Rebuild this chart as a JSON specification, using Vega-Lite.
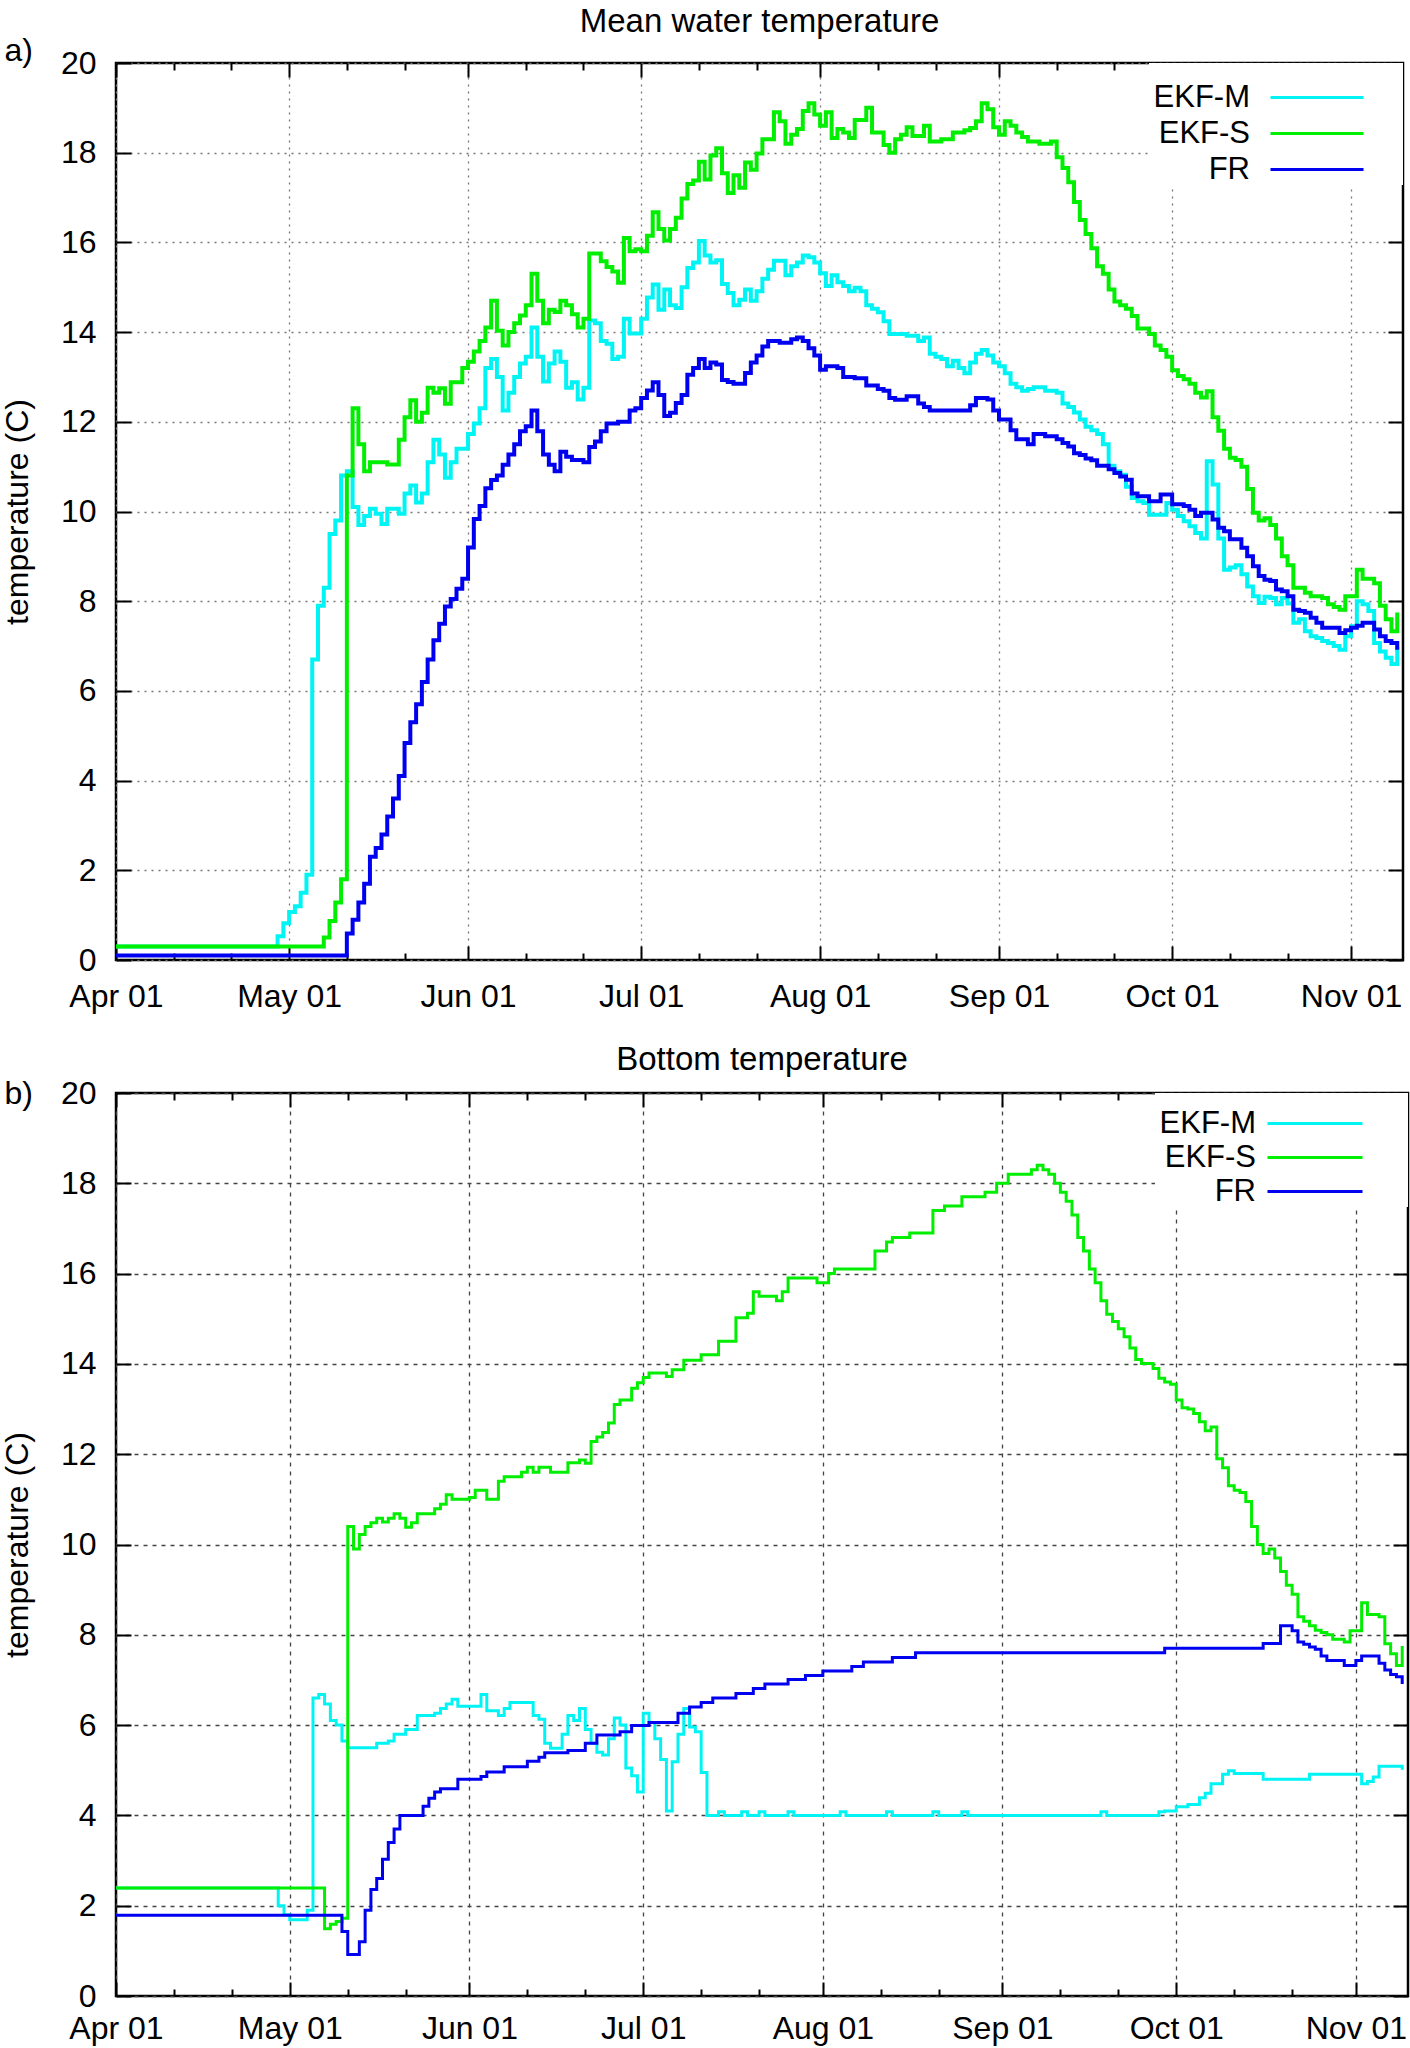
{
"$schema": "https://vega.github.io/schema/vega-lite/v6.json",
"background": "white",
"padding": {"left": 0, "top": 4, "right": 0, "bottom": 0},
"config": {
  "font": "Liberation Sans",
  "view": {"stroke": "black", "strokeWidth": 2.5},
  "axis": {"domain": false, "labelFont": "Liberation Sans", "labelFontSize": 32, "labelColor": "black", "titleFont": "Liberation Sans", "titleFontSize": 32, "titleFontWeight": "normal", "titleColor": "black", "tickColor": "black", "tickWidth": 2, "gridWidth": 1.3, "labelFlush": false, "labelOverlap": false, "labelBound": false},
  "title": {"font": "Liberation Sans", "fontSize": 33, "fontWeight": "normal", "color": "black"},
  "concat": {"spacing": 21}
},
"resolve": {"scale": {"color": "independent"}},
"datasets": {
"mean": [
{"m":"EKF-M","d":"2010-04-01","t":0.3},{"m":"EKF-M","d":"2010-04-29","t":0.53},{"m":"EKF-M","d":"2010-04-30","t":0.82},{"m":"EKF-M","d":"2010-05-01","t":1.07},{"m":"EKF-M","d":"2010-05-02","t":1.2},{"m":"EKF-M","d":"2010-05-03","t":1.5},{"m":"EKF-M","d":"2010-05-04","t":1.9},{"m":"EKF-M","d":"2010-05-05","t":6.7},{"m":"EKF-M","d":"2010-05-06","t":7.9},{"m":"EKF-M","d":"2010-05-07","t":8.3},{"m":"EKF-M","d":"2010-05-08","t":9.5},{"m":"EKF-M","d":"2010-05-09","t":9.8},{"m":"EKF-M","d":"2010-05-10","t":10.8},{"m":"EKF-M","d":"2010-05-11","t":10.9},{"m":"EKF-M","d":"2010-05-12","t":10.1},{"m":"EKF-M","d":"2010-05-13","t":9.7},{"m":"EKF-M","d":"2010-05-14","t":9.9},{"m":"EKF-M","d":"2010-05-15","t":10.06},{"m":"EKF-M","d":"2010-05-16","t":9.95},{"m":"EKF-M","d":"2010-05-17","t":9.72},{"m":"EKF-M","d":"2010-05-18","t":10.06},{"m":"EKF-M","d":"2010-05-20","t":9.95},{"m":"EKF-M","d":"2010-05-21","t":10.4},{"m":"EKF-M","d":"2010-05-22","t":10.58},{"m":"EKF-M","d":"2010-05-23","t":10.2},{"m":"EKF-M","d":"2010-05-24","t":10.4},{"m":"EKF-M","d":"2010-05-25","t":11.1},{"m":"EKF-M","d":"2010-05-26","t":11.6},{"m":"EKF-M","d":"2010-05-27","t":11.27},{"m":"EKF-M","d":"2010-05-28","t":10.75},{"m":"EKF-M","d":"2010-05-29","t":11.1},{"m":"EKF-M","d":"2010-05-30","t":11.4},{"m":"EKF-M","d":"2010-06-01","t":11.73},{"m":"EKF-M","d":"2010-06-02","t":11.96},{"m":"EKF-M","d":"2010-06-03","t":12.3},{"m":"EKF-M","d":"2010-06-04","t":13.2},{"m":"EKF-M","d":"2010-06-05","t":13.4},{"m":"EKF-M","d":"2010-06-06","t":13.0},{"m":"EKF-M","d":"2010-06-07","t":12.25},{"m":"EKF-M","d":"2010-06-08","t":12.65},{"m":"EKF-M","d":"2010-06-09","t":13.0},{"m":"EKF-M","d":"2010-06-10","t":13.3},{"m":"EKF-M","d":"2010-06-11","t":13.45},{"m":"EKF-M","d":"2010-06-12","t":14.1},{"m":"EKF-M","d":"2010-06-13","t":13.45},{"m":"EKF-M","d":"2010-06-14","t":12.9},{"m":"EKF-M","d":"2010-06-15","t":13.3},{"m":"EKF-M","d":"2010-06-16","t":13.57},{"m":"EKF-M","d":"2010-06-17","t":13.34},{"m":"EKF-M","d":"2010-06-18","t":12.76},{"m":"EKF-M","d":"2010-06-19","t":12.88},{"m":"EKF-M","d":"2010-06-20","t":12.5},{"m":"EKF-M","d":"2010-06-21","t":12.76},{"m":"EKF-M","d":"2010-06-22","t":14.26},{"m":"EKF-M","d":"2010-06-23","t":14.2},{"m":"EKF-M","d":"2010-06-24","t":13.8},{"m":"EKF-M","d":"2010-06-25","t":13.74},{"m":"EKF-M","d":"2010-06-26","t":13.4},{"m":"EKF-M","d":"2010-06-27","t":13.45},{"m":"EKF-M","d":"2010-06-28","t":14.3},{"m":"EKF-M","d":"2010-06-29","t":13.97},{"m":"EKF-M","d":"2010-07-01","t":14.3},{"m":"EKF-M","d":"2010-07-02","t":14.77},{"m":"EKF-M","d":"2010-07-03","t":15.06},{"m":"EKF-M","d":"2010-07-04","t":14.5},{"m":"EKF-M","d":"2010-07-05","t":14.95},{"m":"EKF-M","d":"2010-07-06","t":14.6},{"m":"EKF-M","d":"2010-07-07","t":14.54},{"m":"EKF-M","d":"2010-07-08","t":15.0},{"m":"EKF-M","d":"2010-07-09","t":15.43},{"m":"EKF-M","d":"2010-07-10","t":15.55},{"m":"EKF-M","d":"2010-07-11","t":16.03},{"m":"EKF-M","d":"2010-07-12","t":15.71},{"m":"EKF-M","d":"2010-07-13","t":15.55},{"m":"EKF-M","d":"2010-07-14","t":15.6},{"m":"EKF-M","d":"2010-07-15","t":15.07},{"m":"EKF-M","d":"2010-07-16","t":14.87},{"m":"EKF-M","d":"2010-07-17","t":14.6},{"m":"EKF-M","d":"2010-07-18","t":14.72},{"m":"EKF-M","d":"2010-07-19","t":14.95},{"m":"EKF-M","d":"2010-07-20","t":14.7},{"m":"EKF-M","d":"2010-07-21","t":14.91},{"m":"EKF-M","d":"2010-07-22","t":15.19},{"m":"EKF-M","d":"2010-07-23","t":15.39},{"m":"EKF-M","d":"2010-07-24","t":15.59},{"m":"EKF-M","d":"2010-07-26","t":15.27},{"m":"EKF-M","d":"2010-07-27","t":15.47},{"m":"EKF-M","d":"2010-07-28","t":15.55},{"m":"EKF-M","d":"2010-07-29","t":15.71},{"m":"EKF-M","d":"2010-07-30","t":15.67},{"m":"EKF-M","d":"2010-07-31","t":15.55},{"m":"EKF-M","d":"2010-08-01","t":15.31},{"m":"EKF-M","d":"2010-08-02","t":15.03},{"m":"EKF-M","d":"2010-08-03","t":15.27},{"m":"EKF-M","d":"2010-08-04","t":15.11},{"m":"EKF-M","d":"2010-08-05","t":15.03},{"m":"EKF-M","d":"2010-08-06","t":14.91},{"m":"EKF-M","d":"2010-08-07","t":14.99},{"m":"EKF-M","d":"2010-08-08","t":14.91},{"m":"EKF-M","d":"2010-08-09","t":14.6},{"m":"EKF-M","d":"2010-08-10","t":14.52},{"m":"EKF-M","d":"2010-08-11","t":14.44},{"m":"EKF-M","d":"2010-08-12","t":14.24},{"m":"EKF-M","d":"2010-08-13","t":13.96},{"m":"EKF-M","d":"2010-08-16","t":13.92},{"m":"EKF-M","d":"2010-08-18","t":13.8},{"m":"EKF-M","d":"2010-08-19","t":13.88},{"m":"EKF-M","d":"2010-08-20","t":13.52},{"m":"EKF-M","d":"2010-08-21","t":13.45},{"m":"EKF-M","d":"2010-08-22","t":13.4},{"m":"EKF-M","d":"2010-08-23","t":13.24},{"m":"EKF-M","d":"2010-08-24","t":13.36},{"m":"EKF-M","d":"2010-08-25","t":13.2},{"m":"EKF-M","d":"2010-08-26","t":13.08},{"m":"EKF-M","d":"2010-08-27","t":13.32},{"m":"EKF-M","d":"2010-08-28","t":13.52},{"m":"EKF-M","d":"2010-08-29","t":13.6},{"m":"EKF-M","d":"2010-08-30","t":13.48},{"m":"EKF-M","d":"2010-08-31","t":13.32},{"m":"EKF-M","d":"2010-09-01","t":13.24},{"m":"EKF-M","d":"2010-09-02","t":13.08},{"m":"EKF-M","d":"2010-09-03","t":12.85},{"m":"EKF-M","d":"2010-09-04","t":12.77},{"m":"EKF-M","d":"2010-09-05","t":12.69},{"m":"EKF-M","d":"2010-09-06","t":12.73},{"m":"EKF-M","d":"2010-09-07","t":12.77},{"m":"EKF-M","d":"2010-09-09","t":12.69},{"m":"EKF-M","d":"2010-09-11","t":12.65},{"m":"EKF-M","d":"2010-09-12","t":12.41},{"m":"EKF-M","d":"2010-09-13","t":12.33},{"m":"EKF-M","d":"2010-09-14","t":12.21},{"m":"EKF-M","d":"2010-09-15","t":12.05},{"m":"EKF-M","d":"2010-09-16","t":11.89},{"m":"EKF-M","d":"2010-09-17","t":11.81},{"m":"EKF-M","d":"2010-09-18","t":11.73},{"m":"EKF-M","d":"2010-09-19","t":11.5},{"m":"EKF-M","d":"2010-09-20","t":11.02},{"m":"EKF-M","d":"2010-09-21","t":10.9},{"m":"EKF-M","d":"2010-09-22","t":10.82},{"m":"EKF-M","d":"2010-09-23","t":10.55},{"m":"EKF-M","d":"2010-09-24","t":10.3},{"m":"EKF-M","d":"2010-09-25","t":10.23},{"m":"EKF-M","d":"2010-09-26","t":10.19},{"m":"EKF-M","d":"2010-09-27","t":9.93},{"m":"EKF-M","d":"2010-09-30","t":10.19},{"m":"EKF-M","d":"2010-10-01","t":10.04},{"m":"EKF-M","d":"2010-10-02","t":9.9},{"m":"EKF-M","d":"2010-10-03","t":9.78},{"m":"EKF-M","d":"2010-10-04","t":9.67},{"m":"EKF-M","d":"2010-10-05","t":9.52},{"m":"EKF-M","d":"2010-10-06","t":9.4},{"m":"EKF-M","d":"2010-10-07","t":11.12},{"m":"EKF-M","d":"2010-10-08","t":10.6},{"m":"EKF-M","d":"2010-10-09","t":9.4},{"m":"EKF-M","d":"2010-10-10","t":8.7},{"m":"EKF-M","d":"2010-10-11","t":8.75},{"m":"EKF-M","d":"2010-10-12","t":8.8},{"m":"EKF-M","d":"2010-10-13","t":8.6},{"m":"EKF-M","d":"2010-10-14","t":8.33},{"m":"EKF-M","d":"2010-10-15","t":8.11},{"m":"EKF-M","d":"2010-10-16","t":7.96},{"m":"EKF-M","d":"2010-10-17","t":8.1},{"m":"EKF-M","d":"2010-10-18","t":8.07},{"m":"EKF-M","d":"2010-10-19","t":7.93},{"m":"EKF-M","d":"2010-10-20","t":8.07},{"m":"EKF-M","d":"2010-10-21","t":7.95},{"m":"EKF-M","d":"2010-10-22","t":7.52},{"m":"EKF-M","d":"2010-10-23","t":7.6},{"m":"EKF-M","d":"2010-10-24","t":7.33},{"m":"EKF-M","d":"2010-10-25","t":7.22},{"m":"EKF-M","d":"2010-10-26","t":7.18},{"m":"EKF-M","d":"2010-10-27","t":7.11},{"m":"EKF-M","d":"2010-10-28","t":7.07},{"m":"EKF-M","d":"2010-10-29","t":7.0},{"m":"EKF-M","d":"2010-10-30","t":6.92},{"m":"EKF-M","d":"2010-10-31","t":7.22},{"m":"EKF-M","d":"2010-11-01","t":7.44},{"m":"EKF-M","d":"2010-11-02","t":8.0},{"m":"EKF-M","d":"2010-11-03","t":7.93},{"m":"EKF-M","d":"2010-11-04","t":7.78},{"m":"EKF-M","d":"2010-11-05","t":7.07},{"m":"EKF-M","d":"2010-11-06","t":6.88},{"m":"EKF-M","d":"2010-11-07","t":6.74},{"m":"EKF-M","d":"2010-11-08","t":6.6},{"m":"EKF-M","d":"2010-11-09","t":6.99},
{"m":"EKF-S","d":"2010-04-01","t":0.3},{"m":"EKF-S","d":"2010-05-07","t":0.5},{"m":"EKF-S","d":"2010-05-08","t":0.87},{"m":"EKF-S","d":"2010-05-09","t":1.28},{"m":"EKF-S","d":"2010-05-10","t":1.8},{"m":"EKF-S","d":"2010-05-11","t":10.8},{"m":"EKF-S","d":"2010-05-12","t":12.3},{"m":"EKF-S","d":"2010-05-13","t":11.5},{"m":"EKF-S","d":"2010-05-14","t":10.9},{"m":"EKF-S","d":"2010-05-15","t":11.1},{"m":"EKF-S","d":"2010-05-18","t":11.05},{"m":"EKF-S","d":"2010-05-20","t":11.6},{"m":"EKF-S","d":"2010-05-21","t":12.1},{"m":"EKF-S","d":"2010-05-22","t":12.48},{"m":"EKF-S","d":"2010-05-23","t":12.0},{"m":"EKF-S","d":"2010-05-24","t":12.2},{"m":"EKF-S","d":"2010-05-25","t":12.76},{"m":"EKF-S","d":"2010-05-26","t":12.65},{"m":"EKF-S","d":"2010-05-27","t":12.75},{"m":"EKF-S","d":"2010-05-28","t":12.4},{"m":"EKF-S","d":"2010-05-29","t":12.88},{"m":"EKF-S","d":"2010-05-31","t":13.2},{"m":"EKF-S","d":"2010-06-01","t":13.34},{"m":"EKF-S","d":"2010-06-02","t":13.57},{"m":"EKF-S","d":"2010-06-03","t":13.8},{"m":"EKF-S","d":"2010-06-04","t":14.1},{"m":"EKF-S","d":"2010-06-05","t":14.7},{"m":"EKF-S","d":"2010-06-06","t":14.03},{"m":"EKF-S","d":"2010-06-07","t":13.7},{"m":"EKF-S","d":"2010-06-08","t":14.0},{"m":"EKF-S","d":"2010-06-09","t":14.2},{"m":"EKF-S","d":"2010-06-10","t":14.37},{"m":"EKF-S","d":"2010-06-11","t":14.6},{"m":"EKF-S","d":"2010-06-12","t":15.3},{"m":"EKF-S","d":"2010-06-13","t":14.7},{"m":"EKF-S","d":"2010-06-14","t":14.2},{"m":"EKF-S","d":"2010-06-15","t":14.5},{"m":"EKF-S","d":"2010-06-16","t":14.45},{"m":"EKF-S","d":"2010-06-17","t":14.7},{"m":"EKF-S","d":"2010-06-18","t":14.6},{"m":"EKF-S","d":"2010-06-19","t":14.4},{"m":"EKF-S","d":"2010-06-20","t":14.1},{"m":"EKF-S","d":"2010-06-21","t":14.3},{"m":"EKF-S","d":"2010-06-22","t":15.75},{"m":"EKF-S","d":"2010-06-24","t":15.58},{"m":"EKF-S","d":"2010-06-25","t":15.45},{"m":"EKF-S","d":"2010-06-26","t":15.35},{"m":"EKF-S","d":"2010-06-27","t":15.1},{"m":"EKF-S","d":"2010-06-28","t":16.1},{"m":"EKF-S","d":"2010-06-29","t":15.8},{"m":"EKF-S","d":"2010-06-30","t":15.85},{"m":"EKF-S","d":"2010-07-01","t":15.8},{"m":"EKF-S","d":"2010-07-02","t":16.15},{"m":"EKF-S","d":"2010-07-03","t":16.67},{"m":"EKF-S","d":"2010-07-04","t":16.3},{"m":"EKF-S","d":"2010-07-05","t":16.04},{"m":"EKF-S","d":"2010-07-06","t":16.3},{"m":"EKF-S","d":"2010-07-07","t":16.55},{"m":"EKF-S","d":"2010-07-08","t":16.98},{"m":"EKF-S","d":"2010-07-09","t":17.3},{"m":"EKF-S","d":"2010-07-10","t":17.38},{"m":"EKF-S","d":"2010-07-11","t":17.8},{"m":"EKF-S","d":"2010-07-12","t":17.4},{"m":"EKF-S","d":"2010-07-13","t":17.94},{"m":"EKF-S","d":"2010-07-14","t":18.1},{"m":"EKF-S","d":"2010-07-15","t":17.54},{"m":"EKF-S","d":"2010-07-16","t":17.1},{"m":"EKF-S","d":"2010-07-17","t":17.5},{"m":"EKF-S","d":"2010-07-18","t":17.22},{"m":"EKF-S","d":"2010-07-19","t":17.78},{"m":"EKF-S","d":"2010-07-20","t":17.62},{"m":"EKF-S","d":"2010-07-21","t":17.98},{"m":"EKF-S","d":"2010-07-22","t":18.3},{"m":"EKF-S","d":"2010-07-24","t":18.9},{"m":"EKF-S","d":"2010-07-25","t":18.7},{"m":"EKF-S","d":"2010-07-26","t":18.2},{"m":"EKF-S","d":"2010-07-27","t":18.4},{"m":"EKF-S","d":"2010-07-28","t":18.53},{"m":"EKF-S","d":"2010-07-29","t":18.93},{"m":"EKF-S","d":"2010-07-30","t":19.1},{"m":"EKF-S","d":"2010-07-31","t":18.85},{"m":"EKF-S","d":"2010-08-01","t":18.6},{"m":"EKF-S","d":"2010-08-02","t":18.9},{"m":"EKF-S","d":"2010-08-03","t":18.33},{"m":"EKF-S","d":"2010-08-04","t":18.53},{"m":"EKF-S","d":"2010-08-05","t":18.45},{"m":"EKF-S","d":"2010-08-06","t":18.33},{"m":"EKF-S","d":"2010-08-07","t":18.73},{"m":"EKF-S","d":"2010-08-09","t":19.0},{"m":"EKF-S","d":"2010-08-10","t":18.45},{"m":"EKF-S","d":"2010-08-12","t":18.17},{"m":"EKF-S","d":"2010-08-13","t":18.0},{"m":"EKF-S","d":"2010-08-14","t":18.3},{"m":"EKF-S","d":"2010-08-15","t":18.4},{"m":"EKF-S","d":"2010-08-16","t":18.57},{"m":"EKF-S","d":"2010-08-17","t":18.37},{"m":"EKF-S","d":"2010-08-19","t":18.6},{"m":"EKF-S","d":"2010-08-20","t":18.25},{"m":"EKF-S","d":"2010-08-22","t":18.3},{"m":"EKF-S","d":"2010-08-24","t":18.45},{"m":"EKF-S","d":"2010-08-26","t":18.5},{"m":"EKF-S","d":"2010-08-27","t":18.55},{"m":"EKF-S","d":"2010-08-28","t":18.7},{"m":"EKF-S","d":"2010-08-29","t":19.1},{"m":"EKF-S","d":"2010-08-30","t":18.97},{"m":"EKF-S","d":"2010-08-31","t":18.57},{"m":"EKF-S","d":"2010-09-01","t":18.4},{"m":"EKF-S","d":"2010-09-02","t":18.7},{"m":"EKF-S","d":"2010-09-03","t":18.6},{"m":"EKF-S","d":"2010-09-04","t":18.45},{"m":"EKF-S","d":"2010-09-05","t":18.35},{"m":"EKF-S","d":"2010-09-06","t":18.25},{"m":"EKF-S","d":"2010-09-08","t":18.2},{"m":"EKF-S","d":"2010-09-10","t":18.25},{"m":"EKF-S","d":"2010-09-11","t":17.9},{"m":"EKF-S","d":"2010-09-12","t":17.66},{"m":"EKF-S","d":"2010-09-13","t":17.34},{"m":"EKF-S","d":"2010-09-14","t":16.9},{"m":"EKF-S","d":"2010-09-15","t":16.5},{"m":"EKF-S","d":"2010-09-16","t":16.19},{"m":"EKF-S","d":"2010-09-17","t":15.87},{"m":"EKF-S","d":"2010-09-18","t":15.47},{"m":"EKF-S","d":"2010-09-19","t":15.3},{"m":"EKF-S","d":"2010-09-20","t":14.95},{"m":"EKF-S","d":"2010-09-21","t":14.68},{"m":"EKF-S","d":"2010-09-22","t":14.6},{"m":"EKF-S","d":"2010-09-23","t":14.52},{"m":"EKF-S","d":"2010-09-24","t":14.36},{"m":"EKF-S","d":"2010-09-25","t":14.08},{"m":"EKF-S","d":"2010-09-27","t":13.96},{"m":"EKF-S","d":"2010-09-28","t":13.7},{"m":"EKF-S","d":"2010-09-29","t":13.6},{"m":"EKF-S","d":"2010-09-30","t":13.45},{"m":"EKF-S","d":"2010-10-01","t":13.15},{"m":"EKF-S","d":"2010-10-02","t":13.02},{"m":"EKF-S","d":"2010-10-03","t":12.95},{"m":"EKF-S","d":"2010-10-04","t":12.85},{"m":"EKF-S","d":"2010-10-05","t":12.65},{"m":"EKF-S","d":"2010-10-06","t":12.54},{"m":"EKF-S","d":"2010-10-07","t":12.68},{"m":"EKF-S","d":"2010-10-08","t":12.1},{"m":"EKF-S","d":"2010-10-09","t":11.8},{"m":"EKF-S","d":"2010-10-10","t":11.4},{"m":"EKF-S","d":"2010-10-11","t":11.2},{"m":"EKF-S","d":"2010-10-12","t":11.15},{"m":"EKF-S","d":"2010-10-13","t":11.0},{"m":"EKF-S","d":"2010-10-14","t":10.5},{"m":"EKF-S","d":"2010-10-15","t":9.97},{"m":"EKF-S","d":"2010-10-16","t":9.8},{"m":"EKF-S","d":"2010-10-17","t":9.85},{"m":"EKF-S","d":"2010-10-18","t":9.7},{"m":"EKF-S","d":"2010-10-19","t":9.4},{"m":"EKF-S","d":"2010-10-20","t":9.0},{"m":"EKF-S","d":"2010-10-21","t":8.8},{"m":"EKF-S","d":"2010-10-22","t":8.3},{"m":"EKF-S","d":"2010-10-24","t":8.19},{"m":"EKF-S","d":"2010-10-25","t":8.11},{"m":"EKF-S","d":"2010-10-27","t":8.07},{"m":"EKF-S","d":"2010-10-28","t":7.93},{"m":"EKF-S","d":"2010-10-29","t":7.87},{"m":"EKF-S","d":"2010-10-30","t":7.81},{"m":"EKF-S","d":"2010-10-31","t":8.11},{"m":"EKF-S","d":"2010-11-02","t":8.7},{"m":"EKF-S","d":"2010-11-03","t":8.5},{"m":"EKF-S","d":"2010-11-05","t":8.4},{"m":"EKF-S","d":"2010-11-06","t":7.9},{"m":"EKF-S","d":"2010-11-07","t":7.6},{"m":"EKF-S","d":"2010-11-08","t":7.33},{"m":"EKF-S","d":"2010-11-09","t":7.75},
{"m":"FR","d":"2010-04-01","t":0.1},{"m":"FR","d":"2010-05-11","t":0.59},{"m":"FR","d":"2010-05-12","t":0.9},{"m":"FR","d":"2010-05-13","t":1.28},{"m":"FR","d":"2010-05-14","t":1.7},{"m":"FR","d":"2010-05-15","t":2.3},{"m":"FR","d":"2010-05-16","t":2.5},{"m":"FR","d":"2010-05-17","t":2.8},{"m":"FR","d":"2010-05-18","t":3.2},{"m":"FR","d":"2010-05-19","t":3.6},{"m":"FR","d":"2010-05-20","t":4.1},{"m":"FR","d":"2010-05-21","t":4.84},{"m":"FR","d":"2010-05-22","t":5.3},{"m":"FR","d":"2010-05-23","t":5.7},{"m":"FR","d":"2010-05-24","t":6.2},{"m":"FR","d":"2010-05-25","t":6.7},{"m":"FR","d":"2010-05-26","t":7.13},{"m":"FR","d":"2010-05-27","t":7.5},{"m":"FR","d":"2010-05-28","t":7.88},{"m":"FR","d":"2010-05-29","t":8.05},{"m":"FR","d":"2010-05-30","t":8.28},{"m":"FR","d":"2010-05-31","t":8.5},{"m":"FR","d":"2010-06-01","t":9.2},{"m":"FR","d":"2010-06-02","t":9.83},{"m":"FR","d":"2010-06-03","t":10.12},{"m":"FR","d":"2010-06-04","t":10.52},{"m":"FR","d":"2010-06-05","t":10.7},{"m":"FR","d":"2010-06-06","t":10.8},{"m":"FR","d":"2010-06-07","t":11.04},{"m":"FR","d":"2010-06-08","t":11.27},{"m":"FR","d":"2010-06-09","t":11.5},{"m":"FR","d":"2010-06-10","t":11.79},{"m":"FR","d":"2010-06-11","t":11.9},{"m":"FR","d":"2010-06-12","t":12.25},{"m":"FR","d":"2010-06-13","t":11.79},{"m":"FR","d":"2010-06-14","t":11.27},{"m":"FR","d":"2010-06-15","t":11.04},{"m":"FR","d":"2010-06-16","t":10.9},{"m":"FR","d":"2010-06-17","t":11.33},{"m":"FR","d":"2010-06-18","t":11.22},{"m":"FR","d":"2010-06-19","t":11.15},{"m":"FR","d":"2010-06-21","t":11.1},{"m":"FR","d":"2010-06-22","t":11.44},{"m":"FR","d":"2010-06-23","t":11.56},{"m":"FR","d":"2010-06-24","t":11.79},{"m":"FR","d":"2010-06-25","t":11.96},{"m":"FR","d":"2010-06-27","t":12.0},{"m":"FR","d":"2010-06-29","t":12.25},{"m":"FR","d":"2010-06-30","t":12.3},{"m":"FR","d":"2010-07-01","t":12.53},{"m":"FR","d":"2010-07-02","t":12.7},{"m":"FR","d":"2010-07-03","t":12.88},{"m":"FR","d":"2010-07-04","t":12.6},{"m":"FR","d":"2010-07-05","t":12.13},{"m":"FR","d":"2010-07-06","t":12.2},{"m":"FR","d":"2010-07-07","t":12.42},{"m":"FR","d":"2010-07-08","t":12.6},{"m":"FR","d":"2010-07-09","t":13.05},{"m":"FR","d":"2010-07-10","t":13.2},{"m":"FR","d":"2010-07-11","t":13.4},{"m":"FR","d":"2010-07-12","t":13.2},{"m":"FR","d":"2010-07-13","t":13.32},{"m":"FR","d":"2010-07-14","t":13.28},{"m":"FR","d":"2010-07-15","t":12.93},{"m":"FR","d":"2010-07-16","t":12.89},{"m":"FR","d":"2010-07-17","t":12.85},{"m":"FR","d":"2010-07-19","t":13.09},{"m":"FR","d":"2010-07-20","t":13.32},{"m":"FR","d":"2010-07-21","t":13.48},{"m":"FR","d":"2010-07-22","t":13.68},{"m":"FR","d":"2010-07-23","t":13.8},{"m":"FR","d":"2010-07-25","t":13.76},{"m":"FR","d":"2010-07-27","t":13.84},{"m":"FR","d":"2010-07-28","t":13.88},{"m":"FR","d":"2010-07-29","t":13.8},{"m":"FR","d":"2010-07-30","t":13.64},{"m":"FR","d":"2010-07-31","t":13.48},{"m":"FR","d":"2010-08-01","t":13.16},{"m":"FR","d":"2010-08-02","t":13.24},{"m":"FR","d":"2010-08-04","t":13.2},{"m":"FR","d":"2010-08-05","t":13.0},{"m":"FR","d":"2010-08-07","t":12.97},{"m":"FR","d":"2010-08-09","t":12.81},{"m":"FR","d":"2010-08-11","t":12.73},{"m":"FR","d":"2010-08-12","t":12.69},{"m":"FR","d":"2010-08-13","t":12.53},{"m":"FR","d":"2010-08-14","t":12.49},{"m":"FR","d":"2010-08-16","t":12.57},{"m":"FR","d":"2010-08-18","t":12.41},{"m":"FR","d":"2010-08-19","t":12.33},{"m":"FR","d":"2010-08-20","t":12.25},{"m":"FR","d":"2010-08-27","t":12.37},{"m":"FR","d":"2010-08-28","t":12.53},{"m":"FR","d":"2010-08-30","t":12.5},{"m":"FR","d":"2010-08-31","t":12.25},{"m":"FR","d":"2010-09-01","t":12.05},{"m":"FR","d":"2010-09-03","t":11.81},{"m":"FR","d":"2010-09-04","t":11.61},{"m":"FR","d":"2010-09-06","t":11.5},{"m":"FR","d":"2010-09-07","t":11.73},{"m":"FR","d":"2010-09-09","t":11.68},{"m":"FR","d":"2010-09-11","t":11.61},{"m":"FR","d":"2010-09-12","t":11.53},{"m":"FR","d":"2010-09-13","t":11.45},{"m":"FR","d":"2010-09-14","t":11.3},{"m":"FR","d":"2010-09-15","t":11.26},{"m":"FR","d":"2010-09-16","t":11.18},{"m":"FR","d":"2010-09-17","t":11.14},{"m":"FR","d":"2010-09-18","t":11.02},{"m":"FR","d":"2010-09-20","t":10.94},{"m":"FR","d":"2010-09-21","t":10.86},{"m":"FR","d":"2010-09-22","t":10.78},{"m":"FR","d":"2010-09-23","t":10.71},{"m":"FR","d":"2010-09-24","t":10.4},{"m":"FR","d":"2010-09-25","t":10.34},{"m":"FR","d":"2010-09-27","t":10.23},{"m":"FR","d":"2010-09-29","t":10.38},{"m":"FR","d":"2010-10-01","t":10.16},{"m":"FR","d":"2010-10-03","t":10.12},{"m":"FR","d":"2010-10-04","t":10.04},{"m":"FR","d":"2010-10-05","t":9.9},{"m":"FR","d":"2010-10-06","t":9.97},{"m":"FR","d":"2010-10-08","t":9.82},{"m":"FR","d":"2010-10-09","t":9.64},{"m":"FR","d":"2010-10-10","t":9.56},{"m":"FR","d":"2010-10-11","t":9.38},{"m":"FR","d":"2010-10-13","t":9.19},{"m":"FR","d":"2010-10-14","t":9.0},{"m":"FR","d":"2010-10-15","t":8.78},{"m":"FR","d":"2010-10-16","t":8.56},{"m":"FR","d":"2010-10-17","t":8.48},{"m":"FR","d":"2010-10-18","t":8.45},{"m":"FR","d":"2010-10-19","t":8.26},{"m":"FR","d":"2010-10-20","t":8.22},{"m":"FR","d":"2010-10-21","t":8.11},{"m":"FR","d":"2010-10-22","t":7.81},{"m":"FR","d":"2010-10-23","t":7.78},{"m":"FR","d":"2010-10-24","t":7.74},{"m":"FR","d":"2010-10-25","t":7.63},{"m":"FR","d":"2010-10-26","t":7.52},{"m":"FR","d":"2010-10-27","t":7.41},{"m":"FR","d":"2010-10-30","t":7.29},{"m":"FR","d":"2010-10-31","t":7.35},{"m":"FR","d":"2010-11-01","t":7.41},{"m":"FR","d":"2010-11-02","t":7.45},{"m":"FR","d":"2010-11-03","t":7.52},{"m":"FR","d":"2010-11-05","t":7.37},{"m":"FR","d":"2010-11-06","t":7.22},{"m":"FR","d":"2010-11-07","t":7.11},{"m":"FR","d":"2010-11-08","t":7.07},{"m":"FR","d":"2010-11-09","t":6.92}
],
"bottom": [
{"m":"EKF-M","d":"2010-04-01","t":2.39},{"m":"EKF-M","d":"2010-04-29","t":2.0},{"m":"EKF-M","d":"2010-04-30","t":1.8},{"m":"EKF-M","d":"2010-05-01","t":1.69},{"m":"EKF-M","d":"2010-05-04","t":1.9},{"m":"EKF-M","d":"2010-05-05","t":6.6},{"m":"EKF-M","d":"2010-05-06","t":6.68},{"m":"EKF-M","d":"2010-05-07","t":6.47},{"m":"EKF-M","d":"2010-05-08","t":6.1},{"m":"EKF-M","d":"2010-05-09","t":6.0},{"m":"EKF-M","d":"2010-05-10","t":5.65},{"m":"EKF-M","d":"2010-05-11","t":5.5},{"m":"EKF-M","d":"2010-05-16","t":5.6},{"m":"EKF-M","d":"2010-05-18","t":5.65},{"m":"EKF-M","d":"2010-05-19","t":5.8},{"m":"EKF-M","d":"2010-05-21","t":5.9},{"m":"EKF-M","d":"2010-05-23","t":6.21},{"m":"EKF-M","d":"2010-05-26","t":6.26},{"m":"EKF-M","d":"2010-05-27","t":6.37},{"m":"EKF-M","d":"2010-05-28","t":6.47},{"m":"EKF-M","d":"2010-05-29","t":6.57},{"m":"EKF-M","d":"2010-05-30","t":6.42},{"m":"EKF-M","d":"2010-06-03","t":6.68},{"m":"EKF-M","d":"2010-06-04","t":6.32},{"m":"EKF-M","d":"2010-06-06","t":6.21},{"m":"EKF-M","d":"2010-06-07","t":6.37},{"m":"EKF-M","d":"2010-06-08","t":6.5},{"m":"EKF-M","d":"2010-06-12","t":6.21},{"m":"EKF-M","d":"2010-06-13","t":6.13},{"m":"EKF-M","d":"2010-06-14","t":5.6},{"m":"EKF-M","d":"2010-06-15","t":5.49},{"m":"EKF-M","d":"2010-06-17","t":5.8},{"m":"EKF-M","d":"2010-06-18","t":6.21},{"m":"EKF-M","d":"2010-06-19","t":6.1},{"m":"EKF-M","d":"2010-06-20","t":6.37},{"m":"EKF-M","d":"2010-06-21","t":5.9},{"m":"EKF-M","d":"2010-06-22","t":5.6},{"m":"EKF-M","d":"2010-06-23","t":5.4},{"m":"EKF-M","d":"2010-06-24","t":5.34},{"m":"EKF-M","d":"2010-06-25","t":5.7},{"m":"EKF-M","d":"2010-06-26","t":6.16},{"m":"EKF-M","d":"2010-06-27","t":6.0},{"m":"EKF-M","d":"2010-06-28","t":5.05},{"m":"EKF-M","d":"2010-06-29","t":4.88},{"m":"EKF-M","d":"2010-06-30","t":4.52},{"m":"EKF-M","d":"2010-07-01","t":6.26},{"m":"EKF-M","d":"2010-07-02","t":6.06},{"m":"EKF-M","d":"2010-07-03","t":5.7},{"m":"EKF-M","d":"2010-07-04","t":5.24},{"m":"EKF-M","d":"2010-07-05","t":4.1},{"m":"EKF-M","d":"2010-07-06","t":5.19},{"m":"EKF-M","d":"2010-07-07","t":5.8},{"m":"EKF-M","d":"2010-07-08","t":6.37},{"m":"EKF-M","d":"2010-07-09","t":5.96},{"m":"EKF-M","d":"2010-07-10","t":5.85},{"m":"EKF-M","d":"2010-07-11","t":4.95},{"m":"EKF-M","d":"2010-07-12","t":4.0},{"m":"EKF-M","d":"2010-07-14","t":4.08},{"m":"EKF-M","d":"2010-07-15","t":4.0},{"m":"EKF-M","d":"2010-07-18","t":4.08},{"m":"EKF-M","d":"2010-07-19","t":4.0},{"m":"EKF-M","d":"2010-07-21","t":4.08},{"m":"EKF-M","d":"2010-07-22","t":4.0},{"m":"EKF-M","d":"2010-07-26","t":4.08},{"m":"EKF-M","d":"2010-07-27","t":4.0},{"m":"EKF-M","d":"2010-08-04","t":4.08},{"m":"EKF-M","d":"2010-08-05","t":4.0},{"m":"EKF-M","d":"2010-08-12","t":4.08},{"m":"EKF-M","d":"2010-08-13","t":4.0},{"m":"EKF-M","d":"2010-08-20","t":4.08},{"m":"EKF-M","d":"2010-08-21","t":4.0},{"m":"EKF-M","d":"2010-08-25","t":4.08},{"m":"EKF-M","d":"2010-08-26","t":4.0},{"m":"EKF-M","d":"2010-09-18","t":4.08},{"m":"EKF-M","d":"2010-09-19","t":4.0},{"m":"EKF-M","d":"2010-09-28","t":4.08},{"m":"EKF-M","d":"2010-09-29","t":4.1},{"m":"EKF-M","d":"2010-10-01","t":4.19},{"m":"EKF-M","d":"2010-10-03","t":4.24},{"m":"EKF-M","d":"2010-10-05","t":4.39},{"m":"EKF-M","d":"2010-10-06","t":4.49},{"m":"EKF-M","d":"2010-10-07","t":4.7},{"m":"EKF-M","d":"2010-10-09","t":4.91},{"m":"EKF-M","d":"2010-10-10","t":4.99},{"m":"EKF-M","d":"2010-10-11","t":4.93},{"m":"EKF-M","d":"2010-10-16","t":4.8},{"m":"EKF-M","d":"2010-10-24","t":4.91},{"m":"EKF-M","d":"2010-11-02","t":4.7},{"m":"EKF-M","d":"2010-11-03","t":4.75},{"m":"EKF-M","d":"2010-11-04","t":4.85},{"m":"EKF-M","d":"2010-11-05","t":5.09},{"m":"EKF-M","d":"2010-11-09","t":5.01},
{"m":"EKF-S","d":"2010-04-01","t":2.39},{"m":"EKF-S","d":"2010-05-07","t":1.49},{"m":"EKF-S","d":"2010-05-08","t":1.59},{"m":"EKF-S","d":"2010-05-09","t":1.65},{"m":"EKF-S","d":"2010-05-10","t":1.72},{"m":"EKF-S","d":"2010-05-11","t":10.4},{"m":"EKF-S","d":"2010-05-12","t":9.9},{"m":"EKF-S","d":"2010-05-13","t":10.22},{"m":"EKF-S","d":"2010-05-14","t":10.4},{"m":"EKF-S","d":"2010-05-15","t":10.48},{"m":"EKF-S","d":"2010-05-16","t":10.58},{"m":"EKF-S","d":"2010-05-17","t":10.5},{"m":"EKF-S","d":"2010-05-18","t":10.58},{"m":"EKF-S","d":"2010-05-19","t":10.68},{"m":"EKF-S","d":"2010-05-20","t":10.58},{"m":"EKF-S","d":"2010-05-21","t":10.38},{"m":"EKF-S","d":"2010-05-22","t":10.48},{"m":"EKF-S","d":"2010-05-23","t":10.68},{"m":"EKF-S","d":"2010-05-26","t":10.79},{"m":"EKF-S","d":"2010-05-27","t":10.89},{"m":"EKF-S","d":"2010-05-28","t":11.1},{"m":"EKF-S","d":"2010-05-29","t":11.0},{"m":"EKF-S","d":"2010-06-01","t":11.04},{"m":"EKF-S","d":"2010-06-02","t":11.2},{"m":"EKF-S","d":"2010-06-04","t":11.0},{"m":"EKF-S","d":"2010-06-06","t":11.4},{"m":"EKF-S","d":"2010-06-07","t":11.5},{"m":"EKF-S","d":"2010-06-10","t":11.6},{"m":"EKF-S","d":"2010-06-11","t":11.71},{"m":"EKF-S","d":"2010-06-12","t":11.6},{"m":"EKF-S","d":"2010-06-13","t":11.71},{"m":"EKF-S","d":"2010-06-15","t":11.6},{"m":"EKF-S","d":"2010-06-18","t":11.81},{"m":"EKF-S","d":"2010-06-20","t":11.87},{"m":"EKF-S","d":"2010-06-21","t":11.8},{"m":"EKF-S","d":"2010-06-22","t":12.28},{"m":"EKF-S","d":"2010-06-23","t":12.38},{"m":"EKF-S","d":"2010-06-24","t":12.48},{"m":"EKF-S","d":"2010-06-25","t":12.69},{"m":"EKF-S","d":"2010-06-26","t":13.1},{"m":"EKF-S","d":"2010-06-27","t":13.2},{"m":"EKF-S","d":"2010-06-29","t":13.46},{"m":"EKF-S","d":"2010-06-30","t":13.58},{"m":"EKF-S","d":"2010-07-01","t":13.7},{"m":"EKF-S","d":"2010-07-02","t":13.8},{"m":"EKF-S","d":"2010-07-05","t":13.72},{"m":"EKF-S","d":"2010-07-06","t":13.87},{"m":"EKF-S","d":"2010-07-08","t":14.08},{"m":"EKF-S","d":"2010-07-11","t":14.2},{"m":"EKF-S","d":"2010-07-14","t":14.5},{"m":"EKF-S","d":"2010-07-17","t":15.02},{"m":"EKF-S","d":"2010-07-19","t":15.12},{"m":"EKF-S","d":"2010-07-20","t":15.6},{"m":"EKF-S","d":"2010-07-21","t":15.5},{"m":"EKF-S","d":"2010-07-24","t":15.4},{"m":"EKF-S","d":"2010-07-25","t":15.6},{"m":"EKF-S","d":"2010-07-26","t":15.9},{"m":"EKF-S","d":"2010-07-31","t":15.8},{"m":"EKF-S","d":"2010-08-02","t":16.0},{"m":"EKF-S","d":"2010-08-03","t":16.1},{"m":"EKF-S","d":"2010-08-10","t":16.5},{"m":"EKF-S","d":"2010-08-12","t":16.7},{"m":"EKF-S","d":"2010-08-13","t":16.8},{"m":"EKF-S","d":"2010-08-16","t":16.9},{"m":"EKF-S","d":"2010-08-20","t":17.4},{"m":"EKF-S","d":"2010-08-22","t":17.5},{"m":"EKF-S","d":"2010-08-25","t":17.7},{"m":"EKF-S","d":"2010-08-29","t":17.8},{"m":"EKF-S","d":"2010-08-31","t":18.0},{"m":"EKF-S","d":"2010-09-02","t":18.2},{"m":"EKF-S","d":"2010-09-06","t":18.3},{"m":"EKF-S","d":"2010-09-07","t":18.4},{"m":"EKF-S","d":"2010-09-08","t":18.3},{"m":"EKF-S","d":"2010-09-09","t":18.2},{"m":"EKF-S","d":"2010-09-10","t":18.0},{"m":"EKF-S","d":"2010-09-11","t":17.8},{"m":"EKF-S","d":"2010-09-12","t":17.6},{"m":"EKF-S","d":"2010-09-13","t":17.3},{"m":"EKF-S","d":"2010-09-14","t":16.8},{"m":"EKF-S","d":"2010-09-15","t":16.5},{"m":"EKF-S","d":"2010-09-16","t":16.1},{"m":"EKF-S","d":"2010-09-17","t":15.8},{"m":"EKF-S","d":"2010-09-18","t":15.4},{"m":"EKF-S","d":"2010-09-19","t":15.1},{"m":"EKF-S","d":"2010-09-20","t":14.94},{"m":"EKF-S","d":"2010-09-21","t":14.78},{"m":"EKF-S","d":"2010-09-22","t":14.6},{"m":"EKF-S","d":"2010-09-23","t":14.35},{"m":"EKF-S","d":"2010-09-24","t":14.1},{"m":"EKF-S","d":"2010-09-25","t":14.01},{"m":"EKF-S","d":"2010-09-27","t":13.9},{"m":"EKF-S","d":"2010-09-28","t":13.68},{"m":"EKF-S","d":"2010-09-29","t":13.6},{"m":"EKF-S","d":"2010-09-30","t":13.55},{"m":"EKF-S","d":"2010-10-01","t":13.2},{"m":"EKF-S","d":"2010-10-02","t":13.03},{"m":"EKF-S","d":"2010-10-03","t":13.0},{"m":"EKF-S","d":"2010-10-04","t":12.9},{"m":"EKF-S","d":"2010-10-05","t":12.72},{"m":"EKF-S","d":"2010-10-06","t":12.52},{"m":"EKF-S","d":"2010-10-07","t":12.6},{"m":"EKF-S","d":"2010-10-08","t":11.9},{"m":"EKF-S","d":"2010-10-09","t":11.7},{"m":"EKF-S","d":"2010-10-10","t":11.3},{"m":"EKF-S","d":"2010-10-11","t":11.2},{"m":"EKF-S","d":"2010-10-12","t":11.15},{"m":"EKF-S","d":"2010-10-13","t":10.95},{"m":"EKF-S","d":"2010-10-14","t":10.4},{"m":"EKF-S","d":"2010-10-15","t":10.0},{"m":"EKF-S","d":"2010-10-16","t":9.8},{"m":"EKF-S","d":"2010-10-17","t":9.9},{"m":"EKF-S","d":"2010-10-18","t":9.7},{"m":"EKF-S","d":"2010-10-19","t":9.4},{"m":"EKF-S","d":"2010-10-20","t":9.1},{"m":"EKF-S","d":"2010-10-21","t":8.9},{"m":"EKF-S","d":"2010-10-22","t":8.4},{"m":"EKF-S","d":"2010-10-23","t":8.3},{"m":"EKF-S","d":"2010-10-24","t":8.2},{"m":"EKF-S","d":"2010-10-25","t":8.1},{"m":"EKF-S","d":"2010-10-26","t":8.05},{"m":"EKF-S","d":"2010-10-27","t":8.0},{"m":"EKF-S","d":"2010-10-28","t":7.9},{"m":"EKF-S","d":"2010-10-30","t":7.84},{"m":"EKF-S","d":"2010-10-31","t":8.09},{"m":"EKF-S","d":"2010-11-02","t":8.71},{"m":"EKF-S","d":"2010-11-03","t":8.45},{"m":"EKF-S","d":"2010-11-05","t":8.4},{"m":"EKF-S","d":"2010-11-06","t":7.8},{"m":"EKF-S","d":"2010-11-07","t":7.58},{"m":"EKF-S","d":"2010-11-08","t":7.32},{"m":"EKF-S","d":"2010-11-09","t":7.75},
{"m":"FR","d":"2010-04-01","t":1.79},{"m":"FR","d":"2010-05-10","t":1.43},{"m":"FR","d":"2010-05-11","t":0.92},{"m":"FR","d":"2010-05-13","t":1.2},{"m":"FR","d":"2010-05-14","t":1.9},{"m":"FR","d":"2010-05-15","t":2.36},{"m":"FR","d":"2010-05-16","t":2.6},{"m":"FR","d":"2010-05-17","t":3.03},{"m":"FR","d":"2010-05-18","t":3.4},{"m":"FR","d":"2010-05-19","t":3.7},{"m":"FR","d":"2010-05-20","t":4.0},{"m":"FR","d":"2010-05-24","t":4.2},{"m":"FR","d":"2010-05-25","t":4.38},{"m":"FR","d":"2010-05-26","t":4.52},{"m":"FR","d":"2010-05-27","t":4.59},{"m":"FR","d":"2010-05-30","t":4.8},{"m":"FR","d":"2010-06-03","t":4.86},{"m":"FR","d":"2010-06-04","t":4.96},{"m":"FR","d":"2010-06-07","t":5.08},{"m":"FR","d":"2010-06-11","t":5.2},{"m":"FR","d":"2010-06-13","t":5.29},{"m":"FR","d":"2010-06-14","t":5.39},{"m":"FR","d":"2010-06-18","t":5.44},{"m":"FR","d":"2010-06-21","t":5.6},{"m":"FR","d":"2010-06-23","t":5.78},{"m":"FR","d":"2010-06-27","t":5.85},{"m":"FR","d":"2010-06-29","t":5.99},{"m":"FR","d":"2010-07-02","t":6.06},{"m":"FR","d":"2010-07-07","t":6.26},{"m":"FR","d":"2010-07-09","t":6.4},{"m":"FR","d":"2010-07-11","t":6.5},{"m":"FR","d":"2010-07-13","t":6.6},{"m":"FR","d":"2010-07-17","t":6.7},{"m":"FR","d":"2010-07-20","t":6.81},{"m":"FR","d":"2010-07-22","t":6.91},{"m":"FR","d":"2010-07-26","t":7.01},{"m":"FR","d":"2010-07-29","t":7.1},{"m":"FR","d":"2010-08-01","t":7.2},{"m":"FR","d":"2010-08-06","t":7.3},{"m":"FR","d":"2010-08-08","t":7.4},{"m":"FR","d":"2010-08-13","t":7.5},{"m":"FR","d":"2010-08-17","t":7.6},{"m":"FR","d":"2010-09-29","t":7.7},{"m":"FR","d":"2010-10-16","t":7.81},{"m":"FR","d":"2010-10-19","t":8.2},{"m":"FR","d":"2010-10-21","t":8.09},{"m":"FR","d":"2010-10-22","t":7.84},{"m":"FR","d":"2010-10-23","t":7.79},{"m":"FR","d":"2010-10-24","t":7.73},{"m":"FR","d":"2010-10-25","t":7.68},{"m":"FR","d":"2010-10-26","t":7.53},{"m":"FR","d":"2010-10-27","t":7.43},{"m":"FR","d":"2010-10-30","t":7.32},{"m":"FR","d":"2010-11-01","t":7.43},{"m":"FR","d":"2010-11-02","t":7.53},{"m":"FR","d":"2010-11-05","t":7.37},{"m":"FR","d":"2010-11-06","t":7.22},{"m":"FR","d":"2010-11-07","t":7.12},{"m":"FR","d":"2010-11-08","t":7.07},{"m":"FR","d":"2010-11-09","t":6.91}
]
},
"vconcat": [
{
  "width": 1287, "height": 897,
  "title": {"text": "Mean water temperature", "anchor": "middle", "baseline": "alphabetic", "offset": -31},
  "data": {"name": "mean"},
  "layer": [
    {
      "mark": {"type": "line", "interpolate": "step-after", "strokeWidth": 4},
      "encoding": {
        "x": {"field": "d", "type": "temporal", "scale": {"type": "utc", "domain": [{"year": 2010, "month": "apr", "date": 1, "utc": true}, {"year": 2010, "month": "nov", "date": 10, "utc": true}]},
          "axis": {"orient": "bottom", "title": null, "format": "%b %d", "labelExpr": "utcdate(datum.value) == 1 ? datum.label : ''",
            "values": [{"year":2010,"month":"apr","date":1,"utc":true},{"year":2010,"month":"apr","date":11,"utc":true},{"year":2010,"month":"apr","date":21,"utc":true},{"year":2010,"month":"may","date":1,"utc":true},{"year":2010,"month":"may","date":11,"utc":true},{"year":2010,"month":"may","date":21,"utc":true},{"year":2010,"month":"jun","date":1,"utc":true},{"year":2010,"month":"jun","date":11,"utc":true},{"year":2010,"month":"jun","date":21,"utc":true},{"year":2010,"month":"jul","date":1,"utc":true},{"year":2010,"month":"jul","date":11,"utc":true},{"year":2010,"month":"jul","date":21,"utc":true},{"year":2010,"month":"aug","date":1,"utc":true},{"year":2010,"month":"aug","date":11,"utc":true},{"year":2010,"month":"aug","date":21,"utc":true},{"year":2010,"month":"sep","date":1,"utc":true},{"year":2010,"month":"sep","date":11,"utc":true},{"year":2010,"month":"sep","date":21,"utc":true},{"year":2010,"month":"oct","date":1,"utc":true},{"year":2010,"month":"oct","date":11,"utc":true},{"year":2010,"month":"oct","date":21,"utc":true},{"year":2010,"month":"nov","date":1,"utc":true}],
            "tickSize": {"condition": {"test": "utcdate(datum.value) == 1", "value": -14}, "value": -7},
            "labelPadding": 35, "grid": true, "gridColor": "#777", "gridDash": [2, 5],
            "gridOpacity": {"condition": {"test": "utcdate(datum.value) == 1", "value": 1}, "value": 0}}},
        "y": {"field": "t", "type": "quantitative", "scale": {"domain": [0, 20], "nice": false, "zero": false},
          "axis": {"orient": "left", "values": [0,2,4,6,8,10,12,14,16,18,20], "tickSize": -15, "labelPadding": 35, "grid": true, "gridColor": "#777", "gridDash": [2, 5], "title": "temperature (C)", "titlePadding": 26}},
        "color": {"field": "m", "type": "nominal", "scale": {"domain": ["EKF-M", "EKF-S", "FR"], "range": ["#00f4f4", "#00ee00", "#0000f0"]},
          "legend": {"title": " ", "titleFontSize": 12, "titlePadding": 7, "orient": "top-right", "offset": 0, "fillColor": "white", "padding": 0, "symbolType": "M-16,0M106,0H199M232,0", "symbolSize": 4, "symbolStrokeWidth": 3, "labelFontSize": 31, "labelFont": "Liberation Sans", "labelColor": "black", "labelAlign": "right", "labelOffset": 70, "rowPadding": 4}}
      }
    },
    {
      "mark": {"type": "point", "opacity": 0, "size": 1},
      "encoding": {
        "x": {"field": "d", "type": "temporal",
          "axis": {"orient": "top", "labels": false, "grid": false,
            "values": [{"year":2010,"month":"apr","date":1,"utc":true},{"year":2010,"month":"apr","date":11,"utc":true},{"year":2010,"month":"apr","date":21,"utc":true},{"year":2010,"month":"may","date":1,"utc":true},{"year":2010,"month":"may","date":11,"utc":true},{"year":2010,"month":"may","date":21,"utc":true},{"year":2010,"month":"jun","date":1,"utc":true},{"year":2010,"month":"jun","date":11,"utc":true},{"year":2010,"month":"jun","date":21,"utc":true},{"year":2010,"month":"jul","date":1,"utc":true},{"year":2010,"month":"jul","date":11,"utc":true},{"year":2010,"month":"jul","date":21,"utc":true},{"year":2010,"month":"aug","date":1,"utc":true},{"year":2010,"month":"aug","date":11,"utc":true},{"year":2010,"month":"aug","date":21,"utc":true},{"year":2010,"month":"sep","date":1,"utc":true},{"year":2010,"month":"sep","date":11,"utc":true},{"year":2010,"month":"sep","date":21,"utc":true},{"year":2010,"month":"oct","date":1,"utc":true},{"year":2010,"month":"oct","date":11,"utc":true},{"year":2010,"month":"oct","date":21,"utc":true},{"year":2010,"month":"nov","date":1,"utc":true}],
            "tickSize": {"condition": {"test": "utcdate(datum.value) == 1", "value": -14}, "value": -7},
            "title": "a)", "titleX": -112, "titleY": -3, "titleAngle": 0, "titleAlign": "left", "titleBaseline": "alphabetic"}},
        "y": {"field": "t", "type": "quantitative",
          "axis": {"orient": "right", "labels": false, "grid": false, "values": [0,2,4,6,8,10,12,14,16,18,20], "tickSize": -15, "title": null}}
      }
    }
  ]
},
{
  "width": 1292, "height": 903,
  "title": {"text": "Bottom temperature", "anchor": "middle", "baseline": "alphabetic", "offset": -26},
  "data": {"name": "bottom"},
  "layer": [
    {
      "mark": {"type": "line", "interpolate": "step-after", "strokeWidth": 3},
      "encoding": {
        "x": {"field": "d", "type": "temporal", "scale": {"type": "utc", "domain": [{"year": 2010, "month": "apr", "date": 1, "utc": true}, {"year": 2010, "month": "nov", "date": 10, "utc": true}]},
          "axis": {"orient": "bottom", "title": null, "format": "%b %d", "labelExpr": "utcdate(datum.value) == 1 ? datum.label : ''",
            "values": [{"year":2010,"month":"apr","date":1,"utc":true},{"year":2010,"month":"apr","date":11,"utc":true},{"year":2010,"month":"apr","date":21,"utc":true},{"year":2010,"month":"may","date":1,"utc":true},{"year":2010,"month":"may","date":11,"utc":true},{"year":2010,"month":"may","date":21,"utc":true},{"year":2010,"month":"jun","date":1,"utc":true},{"year":2010,"month":"jun","date":11,"utc":true},{"year":2010,"month":"jun","date":21,"utc":true},{"year":2010,"month":"jul","date":1,"utc":true},{"year":2010,"month":"jul","date":11,"utc":true},{"year":2010,"month":"jul","date":21,"utc":true},{"year":2010,"month":"aug","date":1,"utc":true},{"year":2010,"month":"aug","date":11,"utc":true},{"year":2010,"month":"aug","date":21,"utc":true},{"year":2010,"month":"sep","date":1,"utc":true},{"year":2010,"month":"sep","date":11,"utc":true},{"year":2010,"month":"sep","date":21,"utc":true},{"year":2010,"month":"oct","date":1,"utc":true},{"year":2010,"month":"oct","date":11,"utc":true},{"year":2010,"month":"oct","date":21,"utc":true},{"year":2010,"month":"nov","date":1,"utc":true}],
            "tickSize": {"condition": {"test": "utcdate(datum.value) == 1", "value": -14}, "value": -7},
            "labelPadding": 31, "grid": true, "gridColor": "#444", "gridDash": [4, 5],
            "gridOpacity": {"condition": {"test": "utcdate(datum.value) == 1", "value": 1}, "value": 0}}},
        "y": {"field": "t", "type": "quantitative", "scale": {"domain": [0, 20], "nice": false, "zero": false},
          "axis": {"orient": "left", "values": [0,2,4,6,8,10,12,14,16,18,20], "tickSize": -15, "labelPadding": 35, "grid": true, "gridColor": "#444", "gridDash": [4, 5], "title": "temperature (C)", "titlePadding": 26}},
        "color": {"field": "m", "type": "nominal", "scale": {"domain": ["EKF-M", "EKF-S", "FR"], "range": ["#00f4f4", "#00ee00", "#0000f0"]},
          "legend": {"title": " ", "titleFontSize": 10, "titlePadding": 5, "orient": "top-right", "offset": 0, "fillColor": "white", "padding": 0, "symbolType": "M-16,0M97,0H192M231,0", "symbolSize": 4, "symbolStrokeWidth": 3, "labelFontSize": 31, "labelFont": "Liberation Sans", "labelColor": "black", "labelAlign": "right", "labelOffset": 70, "rowPadding": 2}}
      }
    },
    {
      "mark": {"type": "point", "opacity": 0, "size": 1},
      "encoding": {
        "x": {"field": "d", "type": "temporal",
          "axis": {"orient": "top", "labels": false, "grid": false,
            "values": [{"year":2010,"month":"apr","date":1,"utc":true},{"year":2010,"month":"apr","date":11,"utc":true},{"year":2010,"month":"apr","date":21,"utc":true},{"year":2010,"month":"may","date":1,"utc":true},{"year":2010,"month":"may","date":11,"utc":true},{"year":2010,"month":"may","date":21,"utc":true},{"year":2010,"month":"jun","date":1,"utc":true},{"year":2010,"month":"jun","date":11,"utc":true},{"year":2010,"month":"jun","date":21,"utc":true},{"year":2010,"month":"jul","date":1,"utc":true},{"year":2010,"month":"jul","date":11,"utc":true},{"year":2010,"month":"jul","date":21,"utc":true},{"year":2010,"month":"aug","date":1,"utc":true},{"year":2010,"month":"aug","date":11,"utc":true},{"year":2010,"month":"aug","date":21,"utc":true},{"year":2010,"month":"sep","date":1,"utc":true},{"year":2010,"month":"sep","date":11,"utc":true},{"year":2010,"month":"sep","date":21,"utc":true},{"year":2010,"month":"oct","date":1,"utc":true},{"year":2010,"month":"oct","date":11,"utc":true},{"year":2010,"month":"oct","date":21,"utc":true},{"year":2010,"month":"nov","date":1,"utc":true}],
            "tickSize": {"condition": {"test": "utcdate(datum.value) == 1", "value": -14}, "value": -7},
            "title": "b)", "titleX": -112, "titleY": 10, "titleAngle": 0, "titleAlign": "left", "titleBaseline": "alphabetic"}},
        "y": {"field": "t", "type": "quantitative",
          "axis": {"orient": "right", "labels": false, "grid": false, "values": [0,2,4,6,8,10,12,14,16,18,20], "tickSize": -15, "title": null}}
      }
    }
  ]
}
]
}
